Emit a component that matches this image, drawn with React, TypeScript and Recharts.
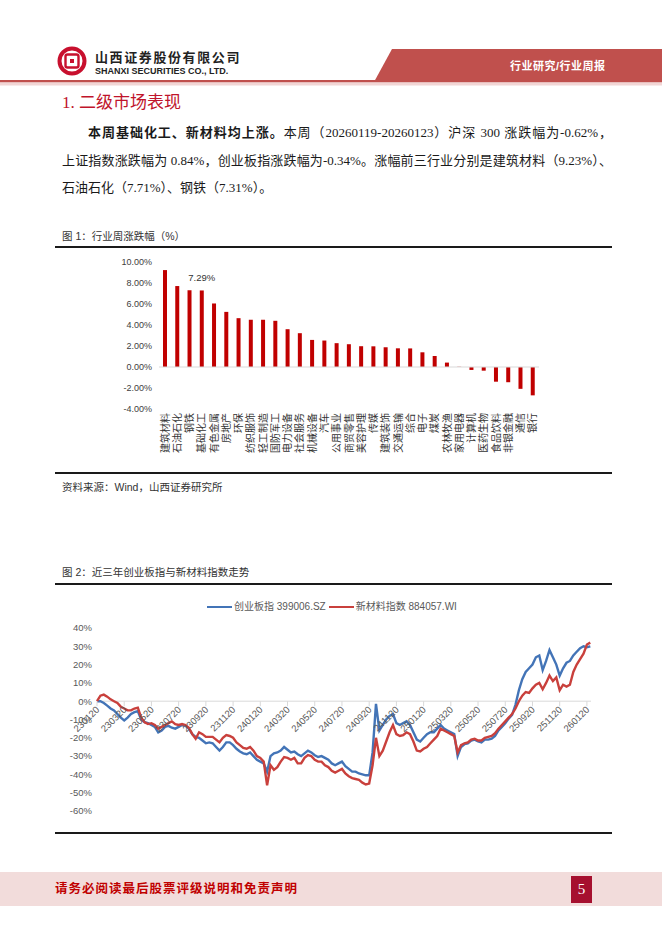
import React from "react";
import { BarChart, Bar, XAxis, YAxis, ReferenceLine, LineChart, Line } from "recharts";

// 图1：行业周涨跌幅（%）
const industries = [
  "建筑材料", "石油石化", "钢铁", "基础化工", "有色金属", "房地产", "环保", "纺织服饰",
  "轻工制造", "国防军工", "电力设备", "社会服务", "机械设备", "汽车", "公用事业", "商贸零售",
  "美容护理", "传媒", "建筑装饰", "交通运输", "综合", "电子", "煤炭", "农林牧渔",
  "家用电器", "计算机", "医药生物", "食品饮料", "非银金融", "通信", "银行",
];
const weeklyChange = [
  9.23, 7.71, 7.31, 7.29, 6.05, 5.25, 4.65, 4.5, 4.5, 4.4, 3.6, 3.22, 2.58, 2.52, 2.27, 2.17,
  1.98, 1.97, 1.88, 1.78, 1.77, 1.4, 1.05, 0.42, 0.02, -0.28, -0.35, -1.4, -1.45, -2.08, -2.7,
];
const labelledIndustry = "基础化工";
const barTicks = [-4, -2, 0, 2, 4, 6, 8, 10];

// 图2：近三年创业板指与新材料指数走势（累计涨跌幅，%，约每周一个点）
const cybName = "创业板指 399006.SZ";
const xclName = "新材料指数 884057.WI";
const dateTicks = [
  "230120", "230320", "230520", "230720", "230920", "231120", "240120", "240320", "240520",
  "240720", "240920", "241120", "250120", "250320", "250520", "250720", "250920", "251120", "260120",
];
const cybIndex = [
  0, 0, -1, -2.4, -4, -5, -7, -9, -10.5, -9, -7, -6, -5.5, -10, -11.5, -12,
  -13, -14, -17, -16, -14, -13.5, -14.5, -15, -14, -13, -13.5, -15, -18, -19.5, -20, -21.5,
  -23, -22.5, -23, -25, -27, -25, -22.5, -22.5, -24, -26, -27.5, -28.5, -29, -28, -30, -32,
  -33, -34, -38.5, -30, -28.5, -28, -27, -25, -26.5, -28, -27.5, -29, -30, -28.5, -27, -28,
  -29.5, -30.5, -30, -31, -32, -34, -35, -34, -33, -35.5, -37, -38.5, -38.5, -39.5, -40, -40.5,
  -40.5, -28, -1.5, -16, -13, -10, -8, -7, -12, -13, -12, -11, -13, -17, -21, -22,
  -20, -18, -17, -17, -15, -13, -15, -16, -17, -18, -30, -25, -23.5, -23, -21.5, -21,
  -22, -22.5, -21, -21, -20.5, -19, -16, -14, -12, -9.5, -7.5, -2, 6, 12, 16, 18,
  20, 24, 25, 17, 22, 28, 24, 20, 14, 18, 21, 22, 25, 27, 29, 30, 29.5, 30,
];
const xclIndex = [
  0, 3, 3.6, 2.5, 1, 0, -1, -3, -4, -5, -5, -4, -3.5, -9, -11.5, -12.5,
  -12, -13, -15, -14, -13, -12, -11, -12.5, -13, -12.5, -13, -14.5, -18, -20.5, -17, -18,
  -19.5, -19.5, -19.5, -21, -22.5, -20, -18.5, -19, -20, -22.5, -24, -25.5, -26, -25, -27, -30,
  -31, -33, -46, -35, -37.5, -36, -33, -30.5, -31, -32, -31, -34, -34, -31, -29.5, -30,
  -32, -33, -33, -35, -36, -38, -39, -38, -37, -39.5, -41, -42, -42.5, -43, -44.5, -45.5,
  -45, -35, -20, -30, -27, -22, -17, -13, -18, -19, -18.5, -17, -18, -22, -27, -27.5,
  -26, -25, -23, -21, -19, -15, -16, -17, -18, -19, -28, -24, -23, -22.5, -21, -20.5,
  -21.5, -21.5, -20, -19.5, -19, -17.5, -15, -13, -11, -9, -7, -4, 0, 3, 5, 4.5,
  7, 9, 10, 6.5, 10, 14, 11, 13, 6, 9, 8, 9, 16, 20, 23, 26, 31, 32,
];
const lineTicks = [-60, -50, -40, -30, -20, -10, 0, 10, 20, 30, 40];

const barData = industries.map((name, i) => ({ name, value: weeklyChange[i] }));
// m = 距 2023-01-20 的月数
const lineData = cybIndex.map((v, i) => ({ m: i / 4, cyb: v, xcl: xclIndex[i] }));

const SANS = "'Liberation Sans','Noto Sans CJK SC',sans-serif";
const SERIF = "'Liberation Serif','Noto Sans CJK SC',serif";
const RED = "#C0504D";
const BLUE = "#4374B7";
const LINE_RED = "#C9403C";

const PLOT2_H = 183;
const Y2_MIN = -60;
const Y2_MAX = 40;

function IndustryTick({ x, y, payload }: any) {
  return (
    <text
      transform={`translate(${x},${y}) rotate(-90)`}
      textAnchor="end"
      dominantBaseline="central"
      fontSize={10}
      fill="#333"
      fontFamily={SANS}
    >
      {payload.value}
    </text>
  );
}

function BarValueLabel({ x, y, width, index }: any) {
  if (industries[index] !== labelledIndustry) return null;
  return (
    <text x={x + width / 2} y={y - 9} textAnchor="middle" fontSize={9.5} fill="#333" fontFamily={SANS}>
      {weeklyChange[index].toFixed(2)}%
    </text>
  );
}

function DateTick({ x, y, payload }: any) {
  // 横轴画在 0% 处
  const zeroY = y - (PLOT2_H * (0 - Y2_MIN)) / (Y2_MAX - Y2_MIN);
  return (
    <g>
      <line x1={x} x2={x} y1={zeroY} y2={zeroY + 5} stroke="#D9D9D9" />
      <text
        transform={`translate(${x + 3},${zeroY + 9}) rotate(-45)`}
        textAnchor="end"
        fontSize={9.5}
        fill="#595959"
        fontFamily={SANS}
      >
        {dateTicks[Math.round(payload.value / 2)]}
      </text>
    </g>
  );
}

function Rule({ top }: { top: number }) {
  return <div style={{ position: "absolute", left: 55, top, width: 557, height: 1.5, background: "#1a1a1a" }} />;
}

export default function App() {
  return (
    <div
      style={{
        position: "absolute",
        left: 0,
        top: 0,
        width: 662,
        height: 936,
        background: "#fff",
        overflow: "hidden",
        fontFamily: SANS,
      }}
    >
      {/* 页眉 */}
      <svg width={662} height={100} style={{ position: "absolute", left: 0, top: 0 }}>
        <polygon points="392,49 662,49 662,82 374,82" fill={RED} />
        <rect x={0} y={80} width={662} height={2.5} fill={RED} />
        <rect x={0} y={82.5} width={662} height={3} fill="#F2D6D5" />
        <circle cx={72} cy={61} r={12.5} fill="none" stroke="#C8102E" strokeWidth={4} />
        <rect x={65.5} y={54.5} width={13} height={13} rx={2} fill="none" stroke="#C8102E" strokeWidth={2.4} />
        <rect x={70} y={59} width={4} height={4} fill="#C8102E" />
      </svg>
      <div style={{ position: "absolute", left: 95, top: 50, fontSize: 13, fontWeight: 700, letterSpacing: 1.6, color: "#222", lineHeight: "15px" }}>
        山西证券股份有限公司
      </div>
      <div style={{ position: "absolute", left: 95, top: 66, fontSize: 9, fontWeight: 700, color: "#222", lineHeight: "11px" }}>
        SHANXI SECURITIES CO., LTD.
      </div>
      <div style={{ position: "absolute", left: 510, top: 59, fontSize: 11, fontWeight: 700, color: "#fff", lineHeight: "14px", letterSpacing: 0.5 }}>
        行业研究/行业周报
      </div>

      {/* 标题与正文 */}
      <div style={{ position: "absolute", left: 62, top: 93, fontSize: 17, color: "#C0142B", fontFamily: SERIF, lineHeight: "20px" }}>
        1. 二级市场表现
      </div>
      <div style={{ position: "absolute", left: 62, width: 550, fontSize: 13, fontFamily: SERIF, color: "#1a1a1a", lineHeight: "20px" }}>
        <div style={{ position: "absolute", top: 123, left: 26, width: 524, textAlign: "justify", textAlignLast: "justify" }}>
          <b>本周基础化工、新材料均上涨。</b>本周（20260119-20260123）沪深 300 涨跌幅为-0.62%，
        </div>
        <div style={{ position: "absolute", top: 151, left: 0, width: 550, textAlign: "justify", textAlignLast: "justify", whiteSpace: "nowrap" }}>
          上证指数涨跌幅为 0.84%，创业板指涨跌幅为-0.34%。涨幅前三行业分别是建筑材料（9.23%）、
        </div>
        <div style={{ position: "absolute", top: 178, left: 0, whiteSpace: "nowrap" }}>
          石油石化（7.71%）、钢铁（7.31%）。
        </div>
      </div>

      {/* 图1 */}
      <div style={{ position: "absolute", left: 62, top: 229, fontSize: 10.5, color: "#333", lineHeight: "14px" }}>
        图 1：行业周涨跌幅（%）
      </div>
      <Rule top={246} />
      <div style={{ position: "absolute", left: 100, top: 250 }}>
        <BarChart width={450} height={219} data={barData} margin={{ top: 12, right: 11, bottom: 0, left: 0 }}>
          <XAxis
            dataKey="name"
            interval={0}
            height={60}
            axisLine={false}
            tickLine={false}
            tickSize={0}
            tickMargin={4}
            tick={<IndustryTick />}
          />
          <YAxis
            width={59}
            domain={[-4, 10]}
            ticks={barTicks}
            axisLine={false}
            tickLine={false}
            tickSize={6}
            tickMargin={1}
            tickFormatter={(v: number) => `${v.toFixed(2)}%`}
            tick={{ fontSize: 9, fill: "#404040", fontFamily: SANS }}
          />
          <ReferenceLine y={0} stroke="#D9D9D9" />
          <Bar dataKey="value" fill="#C00000" barSize={4} isAnimationActive={false} label={<BarValueLabel />} />
        </BarChart>
      </div>
      <Rule top={472} />
      <div style={{ position: "absolute", left: 62, top: 480, fontSize: 10.5, color: "#333", lineHeight: "14px" }}>
        资料来源：Wind，山西证券研究所
      </div>

      {/* 图2 */}
      <div style={{ position: "absolute", left: 62, top: 565, fontSize: 10.5, color: "#333", lineHeight: "14px" }}>
        图 2：近三年创业板指与新材料指数走势
      </div>
      <Rule top={583} />
      <div style={{ position: "absolute", left: 207, top: 600, display: "flex", alignItems: "center", fontSize: 10, color: "#595959", lineHeight: "14px", whiteSpace: "nowrap" }}>
        <span style={{ display: "inline-block", width: 25, height: 2.5, background: BLUE, marginRight: 2 }} />
        <span style={{ marginRight: 3 }}>{cybName}</span>
        <span style={{ display: "inline-block", width: 25, height: 2.5, background: LINE_RED, marginRight: 2 }} />
        <span>{xclName}</span>
      </div>
      <div style={{ position: "absolute", left: 40, top: 595 }}>
        <LineChart width={560} height={230} data={lineData} margin={{ top: 33, right: 9, bottom: 4, left: 0 }}>
          <XAxis
            dataKey="m"
            type="number"
            domain={[0, 36.3]}
            ticks={dateTicks.map((_, i) => i * 2)}
            height={10}
            axisLine={false}
            tickLine={false}
            tickSize={0}
            tickMargin={0}
            tick={<DateTick />}
          />
          <YAxis
            width={57}
            domain={[Y2_MIN, Y2_MAX]}
            ticks={lineTicks}
            axisLine={false}
            tickLine={false}
            tickSize={3}
            tickMargin={2}
            tickFormatter={(v: number) => `${v}%`}
            tick={{ fontSize: 9.5, fill: "#595959", fontFamily: SANS }}
          />
          <ReferenceLine y={0} stroke="#D9D9D9" />
          <Line dataKey="cyb" name={cybName} stroke={BLUE} strokeWidth={2.4} dot={false} isAnimationActive={false} />
          <Line dataKey="xcl" name={xclName} stroke={LINE_RED} strokeWidth={2.4} dot={false} isAnimationActive={false} />
        </LineChart>
      </div>
      <Rule top={832} />

      {/* 页脚 */}
      <div style={{ position: "absolute", left: 0, top: 872, width: 662, height: 34, background: "#F2DCDB" }} />
      <div style={{ position: "absolute", left: 55, top: 881, fontSize: 12.5, fontWeight: 700, color: "#C00000", letterSpacing: 1, lineHeight: "16px" }}>
        请务必阅读最后股票评级说明和免责声明
      </div>
      <div
        style={{
          position: "absolute",
          left: 571,
          top: 876,
          width: 21,
          height: 27,
          background: "#A6102F",
          color: "#fff",
          fontFamily: SERIF,
          fontSize: 15,
          lineHeight: "27px",
          textAlign: "center",
        }}
      >
        5
      </div>
    </div>
  );
}
